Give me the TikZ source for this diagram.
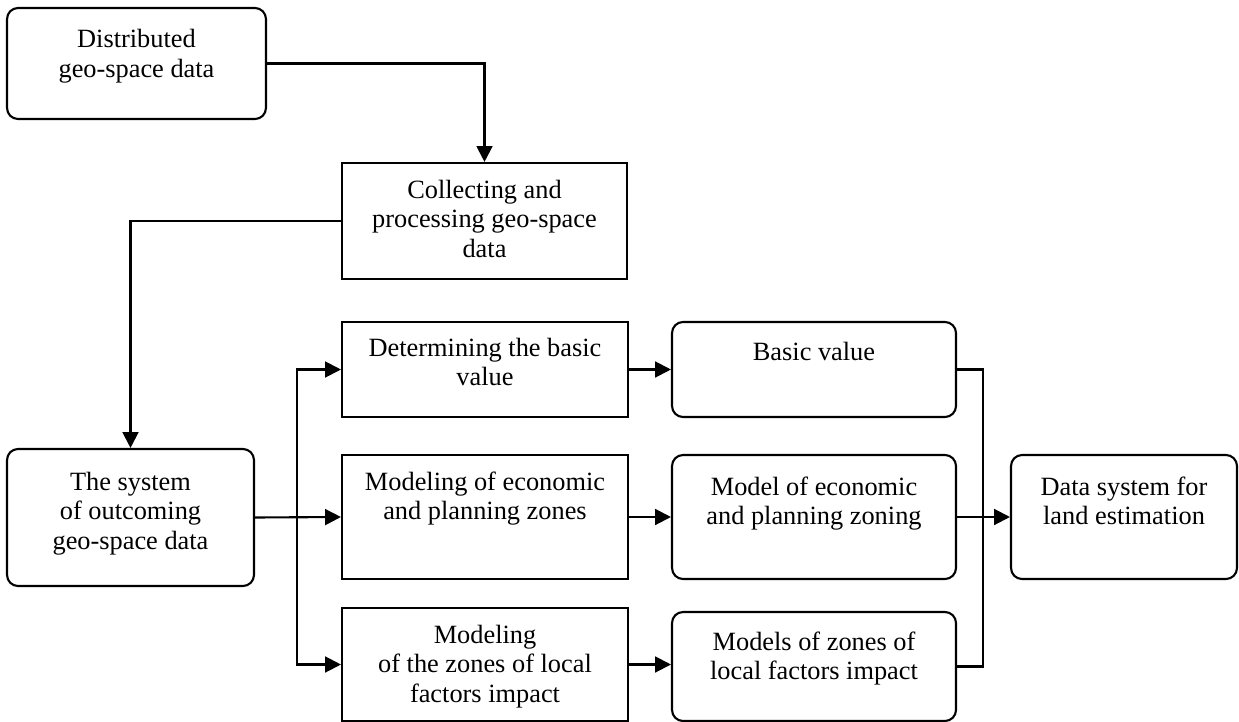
\documentclass[tikz,border=0pt]{standalone}
\usepackage{fontspec}
\setmainfont{Liberation Serif}
\usetikzlibrary{arrows.meta}
\newcommand{\boxtext}[4]{\parbox[c][#2][t]{#1}{\centering\rule{0pt}{#3}#4}}
\begin{document}
\begin{tikzpicture}[x=0.02cm,y=-0.02cm,
    box/.style={draw,line width=1.2pt,inner sep=0pt,font=\fontsize{15pt}{17pt}\selectfont},
    rbox/.style={box,rounded corners=0.22cm},
    arr/.style={-{Triangle[length=9pt,width=9pt]}}]
      \useasboundingbox (0,0) rectangle (1239,722);
      \draw
        (136.5,63.5) node[rbox] (dist){\boxtext{5.18cm}{2.22cm}{0.80cm}{Distributed\\geo-space data}}
        (484.5,221) node[box] (coll){\boxtext{5.70cm}{2.32cm}{0.70cm}{Collecting and\\processing geo-space\\data}}
        (130.5,517.5) node[rbox] (sys){\boxtext{4.94cm}{2.74cm}{0.82cm}{The system\\of outcoming\\geo-space data}}
        (485,369.5) node[box] (detb){\boxtext{5.72cm}{1.90cm}{0.68cm}{Determining the basic\\value}}
        (485,517) node[box] (modz){\boxtext{5.72cm}{2.48cm}{0.70cm}{Modeling of economic\\and planning zones}}
        (485,664.5) node[box] (modl){\boxtext{5.72cm}{2.26cm}{0.70cm}{Modeling\\of the zones of local\\factors impact}}
        (814,369.5) node[rbox] (basv){\boxtext{5.68cm}{1.90cm}{0.76cm}{Basic value}}
        (814,517) node[rbox] (ecoz){\boxtext{5.68cm}{2.48cm}{0.80cm}{Model of economic\\and planning zoning}}
        (814,666.5) node[rbox] (locz){\boxtext{5.68cm}{2.18cm}{0.76cm}{Models of zones of\\local factors impact}}
        (1124,517) node[rbox] (land){\boxtext{4.52cm}{2.48cm}{0.80cm}{Data system for\\land estimation}};
      \coordinate (fork) at (297,517.5);
      \coordinate (join) at (983,517);
      \begin{scope}[line width=1.2pt]
        \draw[arr] (dist.east) -| (coll.north);
        \draw[arr] (coll.west) -| (sys.north);
        \draw[arr] (sys.east) -- (modz.west);
        \draw[arr] (fork) |- (detb.west);
        \draw[arr] (fork) |- (modl.west);
        \draw[arr] (detb) -- (basv);
        \draw[arr] (modz) -- (ecoz);
        \draw[arr] (modl.east) -- (modl.east -| locz.west);
        \draw (basv.east) -| (join) |- (locz.east);
        \draw[arr] (ecoz) -- (land);
      \end{scope}
    \end{tikzpicture}
\end{document}
